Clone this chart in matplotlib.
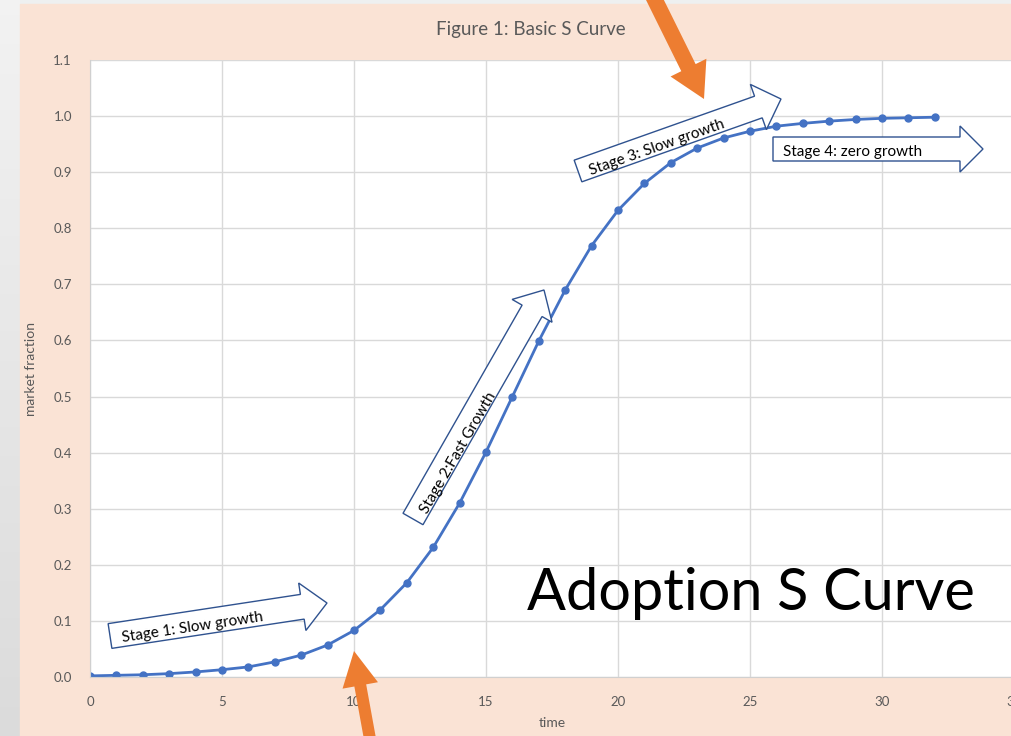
import numpy as np
import matplotlib.pyplot as plt
from matplotlib.patches import Polygon, Rectangle
from matplotlib.transforms import Affine2D

plt.rcParams['font.family'] = ['Lato', 'DejaVu Sans']

# market fraction read at each time step
time = list(range(33))
fraction = [0.002, 0.003, 0.004, 0.006, 0.009, 0.013, 0.018, 0.027, 0.039, 0.057,
            0.083, 0.120, 0.168, 0.231, 0.310, 0.401, 0.500, 0.599, 0.690, 0.769,
            0.832, 0.880, 0.917, 0.943, 0.961, 0.973, 0.982, 0.987, 0.991, 0.994,
            0.996, 0.997, 0.998]

x_ticks = [0, 5, 10, 15, 20, 25, 30, 35]
y_ticks = [0.0, 0.1, 0.2, 0.3, 0.4, 0.5, 0.6, 0.7, 0.8, 0.9, 1.0, 1.1]

stage_labels = ['Stage 1: Slow growth', 'Stage 2:Fast Growth',
                'Stage 3: Slow growth', 'Stage 4: zero growth']

W, H = 1011, 736
fig = plt.figure(figsize=(W / 100, H / 100), dpi=100)
fig.patch.set_facecolor('#EEF0F0')

# pixel coords with origin at top-left
px = Affine2D().scale(1 / W, -1 / H).translate(0, 1) + fig.transFigure

# gray side strip + peach chart background
bg = fig.add_axes([0, 0, 1, 1], zorder=-5)
bg.axis('off')
grad = np.linspace(0.95, 0.86, 100).reshape(-1, 1)
bg.imshow(np.dstack([grad, grad, grad]), extent=(0, 20 / W, 0, 1),
          aspect='auto', transform=bg.transAxes)
bg.add_patch(Rectangle((20 / W, 0), 1, 1 - 4 / H, transform=bg.transAxes,
                       color='#FAE3D5'))
bg.set_xlim(0, 1)
bg.set_ylim(0, 1)

ax = fig.add_axes([90 / W, 59 / H, 924 / W, 617 / H])
ax.set_facecolor('white')
ax.plot(time, fraction, color='#4472C4', lw=2, marker='o', ms=5,
        markeredgecolor='#4472C4')
ax.set_xlim(0, 35)
ax.set_ylim(0, 1.1)
ax.set_xticks(x_ticks)
ax.set_yticks(y_ticks)
ax.set_yticklabels([f'{v:.1f}' for v in y_ticks])
ax.grid(color='#D9D9D9', lw=1)
ax.set_axisbelow(True)
ax.tick_params(length=0, labelsize=9.5, labelcolor='#595959')
ax.tick_params(axis='y', pad=13)
ax.tick_params(axis='x', pad=14)
for s in ['top', 'right']:
    ax.spines[s].set_visible(False)
for s in ['left', 'bottom']:
    ax.spines[s].set_color('#D0D0D0')
ax.set_xlabel('time', fontsize=10, color='#595959', labelpad=6)
ax.set_ylabel('market fraction', fontsize=10, color='#595959', labelpad=12)

fig.text(531 / W, 1 - 29 / H, 'Figure 1: Basic S Curve', ha='center',
         va='center', fontsize=13.5, color='#595959')


def block_arrow(tail, tip, shaft_w, head_w, head_len, face, edge, lw=1.0):
    t = np.array(tail, float)
    p = np.array(tip, float)
    d = (p - t) / np.linalg.norm(p - t)
    n = np.array([-d[1], d[0]])
    b = p - d * head_len
    pts = [t + n * shaft_w / 2, b + n * shaft_w / 2, b + n * head_w / 2, p,
           b - n * head_w / 2, b - n * shaft_w / 2, t - n * shaft_w / 2]
    fig.add_artist(Polygon(pts, closed=True, transform=px, facecolor=face,
                           edgecolor=edge, lw=lw, zorder=5))


# stage call-outs
stages = [((110, 636), (327, 603), 25, 48, 25),
          ((413, 519), (544, 290), 23, 46, 24),
          ((578, 171), (781, 99), 23, 48, 24),
          ((773, 149), (983, 149), 24, 46, 23)]
text_pos = [((192, 628), 8.5), ((458, 453), 60), ((657, 148), 19.5),
            ((853, 152), 0)]
for (tail, tip, sw, hw, hl), label, (pos, ang) in zip(stages, stage_labels, text_pos):
    block_arrow(tail, tip, sw, hw, hl, 'white', '#2F528F')
    fig.text(pos[0] / W, 1 - pos[1] / H, label, ha='center', va='center',
             rotation=ang, rotation_mode='anchor', fontsize=11, color='black',
             zorder=6)

# orange pointers
block_arrow((650, -10), (704, 99), 16, 40, 35, '#ED7D31', 'none', 0)
block_arrow((372, 750), (354, 651), 12, 36, 35, '#ED7D31', 'none', 0)

fig.text(527 / W, 1 - 610 / H, 'Adoption S Curve', ha='left', va='baseline',
         fontsize=41.5, color='black', zorder=6)

fig.savefig('out.png', dpi=100)
